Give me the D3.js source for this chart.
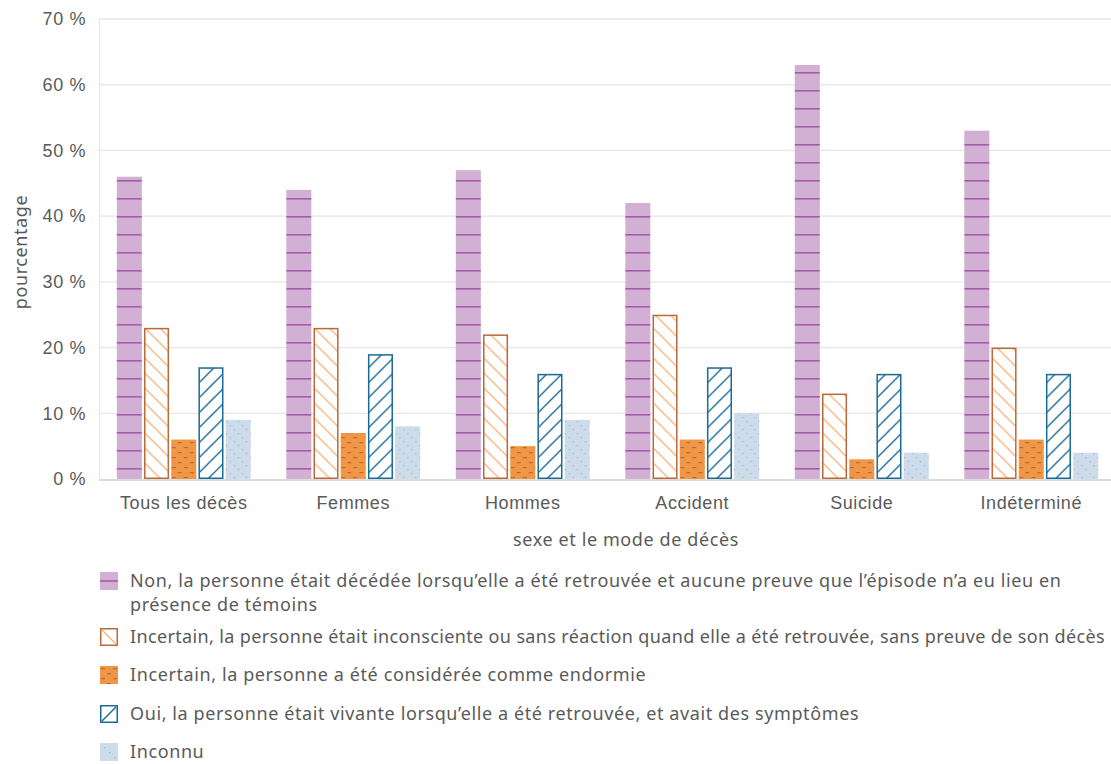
<!DOCTYPE html>
<html lang="fr">
<head>
<meta charset="utf-8">
<script src="https://cdn.jsdelivr.net/npm/d3@7"></script>
<style>
  html, body { margin: 0; padding: 0; background: #fff; }
  svg { display: block; font-family: "Noto Sans", "Open Sans", sans-serif; letter-spacing: 0.6px; }
</style>
</head>
<body>
<svg id="chart" width="1111" height="764"></svg>
<script>
// Catégories (sexe et mode de décès)
const categories = ["Tous les décès", "Femmes", "Hommes", "Accident", "Suicide", "Indéterminé"];

// Libellés des séries
const seriesLabels = [
  "Non, la personne était décédée lorsqu’elle a été retrouvée et aucune preuve que l’épisode n’a eu lieu en présence de témoins",
  "Incertain, la personne était inconsciente ou sans réaction quand elle a été retrouvée, sans preuve de son décès",
  "Incertain, la personne a été considérée comme endormie",
  "Oui, la personne était vivante lorsqu’elle a été retrouvée, et avait des symptômes",
  "Inconnu"
];

// Pourcentages par série, dans l'ordre des catégories
const nonTemoins   = [46, 44, 47, 42, 63, 53];
const inconscient  = [23, 23, 22, 25, 13, 20];
const endormie     = [6, 7, 5, 6, 3, 6];
const vivante      = [17, 19, 16, 17, 16, 16];
const inconnu      = [9, 8, 9, 10, 4, 4];

const yTicks = [0, 10, 20, 30, 40, 50, 60, 70];

const seriesValues = [nonTemoins, inconscient, endormie, vivante, inconnu];

const FONT = 18;
const TEXT = "#5a5a5a";

const svg = d3.select("#chart");
const margin = { left: 99, right: 1116, top: 19, bottom: 479 };

const x0 = d3.scaleBand().domain(categories)
  .range([margin.left, margin.right]).paddingInner(0.21).paddingOuter(0.105);
const x1 = d3.scaleBand().domain(d3.range(seriesLabels.length))
  .range([0, x0.bandwidth()]).paddingInner(0.08);
const y = d3.scaleLinear().domain([0, 70]).range([margin.bottom, margin.top]);

// Motifs de remplissage
const defs = svg.append("defs");

// 1 : violet avec traits horizontaux
const p0 = defs.append("pattern").attr("id", "pat0").attr("patternUnits", "userSpaceOnUse")
  .attr("width", 40).attr("height", 18);
p0.append("rect").attr("width", 40).attr("height", 18).attr("fill", "#d1b0d3");
p0.append("rect").attr("y", 0).attr("width", 40).attr("height", 1.6).attr("fill", "#a65aab");

// 2 : hachures orange claires (\)
const p1 = defs.append("pattern").attr("id", "pat1").attr("patternUnits", "userSpaceOnUse")
  .attr("width", 15).attr("height", 15);
p1.append("rect").attr("width", 15).attr("height", 15).attr("fill", "#fff");
p1.append("path").attr("d", "M-2,-2L17,17M-2,13L2,17M13,-2L17,2")
  .attr("stroke", "#f5b27e").attr("stroke-width", 1.3).attr("fill", "none");

// 3 : orange avec tirets
const p2 = defs.append("pattern").attr("id", "pat2").attr("patternUnits", "userSpaceOnUse")
  .attr("width", 12).attr("height", 10);
p2.append("rect").attr("width", 12).attr("height", 10).attr("fill", "#ef9647");
p2.append("rect").attr("x", 1).attr("y", 2).attr("width", 4).attr("height", 1.2).attr("fill", "#c2672e");
p2.append("rect").attr("x", 7).attr("y", 7).attr("width", 4).attr("height", 1.2).attr("fill", "#c2672e");

// 4 : hachures bleues (/)
const p3 = defs.append("pattern").attr("id", "pat3").attr("patternUnits", "userSpaceOnUse")
  .attr("width", 15).attr("height", 15);
p3.append("rect").attr("width", 15).attr("height", 15).attr("fill", "#fff");
p3.append("path").attr("d", "M-2,17L17,-2M-2,2L2,-2M13,17L17,13")
  .attr("stroke", "#1a6a97").attr("stroke-width", 1.4).attr("fill", "none");

// 5 : bleu pâle pointillé
const p4 = defs.append("pattern").attr("id", "pat4").attr("patternUnits", "userSpaceOnUse")
  .attr("width", 12).attr("height", 12);
p4.append("rect").attr("width", 12).attr("height", 12).attr("fill", "#cddcea");
[[1, 1], [5, 5], [9, 9]].forEach(([cx, cy]) =>
  p4.append("rect").attr("x", cx).attr("y", cy).attr("width", 1.2).attr("height", 1.2).attr("fill", "#9fb1c4"));

const fills = ["url(#pat0)", "url(#pat1)", "url(#pat2)", "url(#pat3)", "url(#pat4)"];
const strokes = [null, "#b9693a", null, "#1a6a97", null];

// Grille horizontale
svg.append("g").selectAll("line").data(yTicks.filter(t => t > 0)).join("line")
  .attr("x1", margin.left).attr("x2", 1111)
  .attr("y1", d => y(d)).attr("y2", d => y(d))
  .attr("stroke", "#e6e6e6").attr("stroke-width", 1.3);

// Ligne verticale gauche
svg.append("line").attr("x1", margin.left + 0.5).attr("x2", margin.left + 0.5)
  .attr("y1", y(70)).attr("y2", y(0)).attr("stroke", "#e6e6e6").attr("stroke-width", 1);

// Axe Y
const yAxis = svg.append("g").attr("transform", `translate(${margin.left},0)`)
  .call(d3.axisLeft(y).tickValues(yTicks).tickSize(0).tickPadding(13).tickFormat(d => d + " %"));
yAxis.select(".domain").remove();
yAxis.selectAll("text").attr("fill", TEXT).attr("font-size", FONT).attr("font-family", null);

// Barres
const groups = svg.append("g").selectAll("g").data(categories).join("g")
  .attr("transform", d => `translate(${x0(d)},0)`);

groups.selectAll("rect").data((c, ci) => seriesValues.map((vals, si) => ({ si, v: vals[ci] })))
  .join("rect")
  .attr("x", d => x1(d.si) + (strokes[d.si] ? 0.75 : 0))
  .attr("y", d => y(d.v) + (strokes[d.si] ? 0.75 : 0))
  .attr("width", d => x1.bandwidth() - (strokes[d.si] ? 1.5 : 0))
  .attr("height", d => y(0) - y(d.v) - (strokes[d.si] ? 1.5 : 0))
  .attr("fill", d => fills[d.si])
  .attr("stroke", d => strokes[d.si] || "none")
  .attr("stroke-width", 1.5);

// Axe X
svg.append("line").attr("x1", margin.left).attr("x2", 1111)
  .attr("y1", y(0) + 1).attr("y2", y(0) + 1).attr("stroke", "#dcdcdc").attr("stroke-width", 2);

const xAxis = svg.append("g").attr("transform", `translate(0,${y(0)})`)
  .call(d3.axisBottom(x0).tickSize(0).tickPadding(17));
xAxis.select(".domain").remove();
xAxis.selectAll("text").attr("fill", TEXT).attr("font-size", FONT).attr("font-family", null);

// Titres des axes
svg.append("text").attr("x", 626).attr("y", 546).attr("text-anchor", "middle")
  .attr("fill", TEXT).attr("font-size", FONT).text("sexe et le mode de décès");
svg.append("text").attr("transform", "translate(27,252) rotate(-90)").attr("text-anchor", "middle")
  .attr("fill", TEXT).attr("font-size", FONT).text("pourcentage");

// Légende
const legendRows = [
  { si: 0, y: 572, lines: ["Non, la personne était décédée lorsqu’elle a été retrouvée et aucune preuve que l’épisode n’a eu lieu en", "présence de témoins"] },
  { si: 1, y: 628, lines: [seriesLabels[1]], spacing: 0.36 },
  { si: 2, y: 666, lines: [seriesLabels[2]] },
  { si: 3, y: 705, lines: [seriesLabels[3]] },
  { si: 4, y: 743, lines: [seriesLabels[4]] }
];
const legend = svg.append("g");
legendRows.forEach(r => {
  const g = legend.append("g").attr("transform", `translate(100,${r.y})`);
  if (r.si === 0) {
    g.append("rect").attr("width", 18).attr("height", 18).attr("fill", "#d1b0d3");
    g.append("rect").attr("y", 8.2).attr("width", 18).attr("height", 1.6).attr("fill", "#a65aab");
  } else if (r.si === 1) {
    g.append("rect").attr("x", 0.75).attr("y", 0.75).attr("width", 16.5).attr("height", 16.5)
      .attr("fill", "#fff").attr("stroke", "#b9693a").attr("stroke-width", 1.5);
    g.append("line").attr("x1", 2).attr("y1", 2).attr("x2", 16).attr("y2", 16)
      .attr("stroke", "#f5b27e").attr("stroke-width", 1.3);
  } else if (r.si === 2) {
    g.append("rect").attr("width", 18).attr("height", 18).attr("fill", "url(#pat2)");
  } else if (r.si === 3) {
    g.append("rect").attr("x", 0.75).attr("y", 0.75).attr("width", 16.5).attr("height", 16.5)
      .attr("fill", "#fff").attr("stroke", "#1a6a97").attr("stroke-width", 1.5);
    g.append("line").attr("x1", 2).attr("y1", 16).attr("x2", 16).attr("y2", 2)
      .attr("stroke", "#1a6a97").attr("stroke-width", 1.4);
  } else {
    g.append("rect").attr("width", 18).attr("height", 18).attr("fill", "#cddcea");
    [[4, 4], [9, 9], [14, 14]].forEach(([cx, cy]) =>
      g.append("rect").attr("x", cx).attr("y", cy).attr("width", 1.2).attr("height", 1.2).attr("fill", "#9fb1c4"));
  }
  const t = g.append("text").attr("x", 30).attr("y", 14.5).attr("fill", TEXT).attr("font-size", FONT);
  if (r.spacing !== undefined) t.style("letter-spacing", r.spacing + "px");
  r.lines.forEach((ln, i) => t.append("tspan").attr("x", 30).attr("dy", i === 0 ? 0 : 24).text(ln));
});
</script>
</body>
</html>
